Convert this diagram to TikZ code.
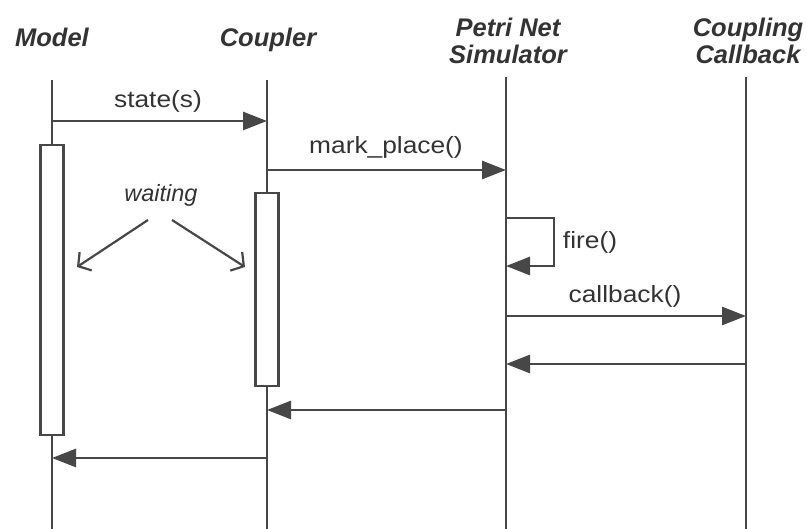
\documentclass[tikz,border=0pt]{standalone}
\usepackage{fontspec}
\setmainfont{Liberation Sans}
\newfontfamily\lblfont[FakeStretch=1.12]{Liberation Sans}
\newfontfamily\headfont{Liberation Sans}
\usetikzlibrary{arrows.meta}
\definecolor{ink}{HTML}{474747}
\definecolor{txt}{HTML}{333333}
\begin{document}
\begin{tikzpicture}[x=1pt,y=-1pt,
  head/.style={font=\headfont\fontsize{25.5}{27}\selectfont\bfseries\itshape, text=txt, align=center, inner sep=0pt},
  lbl/.style={font=\lblfont\fontsize{23.5}{26}\selectfont, text=txt, inner sep=0pt, anchor=base},
  wlbl/.style={font=\headfont\fontsize{23.5}{26}\selectfont\itshape, text=txt, inner sep=0pt, anchor=base},
  life/.style={draw=ink, line width=2.4pt},
  actbox/.style={draw=ink, fill=white, line width=2.2pt, minimum width=23pt, inner sep=0pt},
  msg/.style={draw=ink, line width=2.8pt, -{Triangle[length=24pt,width=18pt]}},
  ptr/.style={draw=ink, line width=2.2pt, -{Straight Barb[length=9pt,width=22pt,line width=2.2pt]}}
]
\useasboundingbox (0,0) rectangle (807,529);
% headings
\node[head, anchor=base] (hM) at (52,47) {Model};
\node[head, anchor=base] (hC) at (268,47) {Coupler};
\node[head, anchor=base] (hP1) at (508,37) {Petri Net};
\node[head, anchor=base] (hP2) at (508,64) {Simulator};
\node[head, anchor=base] (hK1) at (748,37) {Coupling};
\node[head, anchor=base] (hK2) at (748,64) {Callback};
% lifelines
\coordinate (Mtop) at (52,80);  \coordinate (Mbot) at (52,529);
\coordinate (Ctop) at (267,80); \coordinate (Cbot) at (267,529);
\coordinate (Ptop) at (506,77); \coordinate (Pbot) at (506,529);
\coordinate (Ktop) at (746,77); \coordinate (Kbot) at (746,529);
\draw[life] (Mtop) -- (Mbot);
\draw[life] (Ctop) -- (Cbot);
\draw[life] (Ptop) -- (Pbot);
\draw[life] (Ktop) -- (Kbot);
% activation boxes
\node[actbox, minimum height=290pt] (Mact) at (52,290) {};
\node[actbox, minimum height=193pt] (Cact) at (267,289.5) {};
% messages
\coordinate (m1a) at (52,121);  \coordinate (m1b) at (267,121);
\draw[msg] (m1a) -- (m1b);
\node[lbl] (l1) at (158,108) {state(s)};
\coordinate (m2a) at (267,170); \coordinate (m2b) at (506,170);
\draw[msg] (m2a) -- (m2b);
\node[lbl] (l2) at (386,154) {mark\_place()};
\coordinate (f1) at (506,218); \coordinate (f2) at (554,218);
\coordinate (f3) at (554,266); \coordinate (f4) at (506,266);
\draw[msg] (f1) -- (f2) -- (f3) -- (f4);
\node[lbl] (l3) at (590,249) {fire()};
\coordinate (m3a) at (506,316); \coordinate (m3b) at (746,316);
\draw[msg] (m3a) -- (m3b);
\node[lbl] (l4) at (625,303) {callback()};
\coordinate (r1a) at (746,364); \coordinate (r1b) at (506,364);
\draw[msg] (r1a) -- (r1b);
\coordinate (r2a) at (506,410); \coordinate (r2b) at (267,410);
\draw[msg] (r2a) -- (r2b);
\coordinate (r3a) at (267,458); \coordinate (r3b) at (52,458);
\draw[msg] (r3a) -- (r3b);
% waiting
\node[wlbl] (w) at (161,202) {waiting};
\coordinate (wa1) at (148,220); \coordinate (wa2) at (77,267);
\coordinate (wb1) at (172,220); \coordinate (wb2) at (245,267);
\draw[ptr] (wa1) -- (wa2);
\draw[ptr] (wb1) -- (wb2);
\end{tikzpicture}
\end{document}
